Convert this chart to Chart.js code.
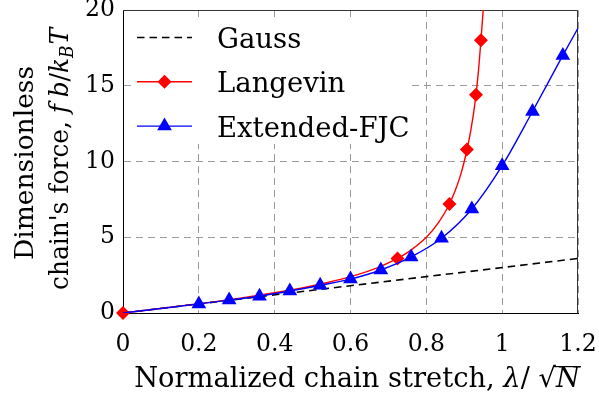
<!DOCTYPE html>
<html>
<head>
<meta charset="utf-8">
<script src="https://cdn.jsdelivr.net/npm/chart.js@4.4.0/dist/chart.umd.min.js"></script>
<style>
  html, body { margin: 0; padding: 0; background: #fff; }
  #wrap { width: 599px; height: 398px; }
</style>
</head>
<body>
<div id="wrap"><canvas id="forceChart" width="599" height="398"></canvas></div>
<script>
var xTicks = [0, 0.2, 0.4, 0.6, 0.8, 1, 1.2];
var yTicks = [0, 5, 10, 15, 20];

// Gaussian chain: straight line
var gaussStretch = [0, 1.2];
var gaussForce = [0, 3.6];

// Langevin chain: smooth curve plus marker points
var langevinStretch = [0, 0.164, 0.313, 0.438, 0.537, 0.614, 0.672, 0.724, 0.751, 0.8, 0.833, 0.857, 0.875, 0.889, 0.9, 0.917, 0.929, 0.9375, 0.944, 0.95, 0.955];
var langevinForce = [0, 0.5, 1, 1.5, 2, 2.5, 3, 3.6, 4, 5, 6, 7, 8, 9, 10, 12, 14, 16, 18, 20, 22];
var langevinMarkStretch = [0, 0.724, 0.861, 0.907, 0.931, 0.944];
var langevinMarkForce = [0, 3.6, 7.2, 10.8, 14.4, 18];

// extensible freely jointed chain
var fjcStretch = [0, 0.1, 0.2, 0.28, 0.36, 0.44, 0.52, 0.6, 0.68, 0.76, 0.84, 0.92, 1, 1.08, 1.16, 1.2];
var fjcForce = [0, 0.3, 0.6, 0.85, 1.11, 1.45, 1.83, 2.24, 2.84, 3.7, 4.93, 6.86, 9.72, 13.3, 17.0, 18.8];
var fjcMarkStretch = [0.2, 0.28, 0.36, 0.44, 0.52, 0.6, 0.68, 0.76, 0.84, 0.92, 1, 1.08, 1.16];
var fjcMarkForce = [0.6, 0.85, 1.11, 1.45, 1.83, 2.24, 2.84, 3.7, 4.93, 6.86, 9.72, 13.3, 17.0];

var SERIF = '"DejaVu Serif", serif';
var RED = '#ff0000';
var BLUE = '#0000ff';

function pairs(xs, ys) {
  return xs.map(function (x, i) { return { x: x, y: ys[i] }; });
}

function markerPath(ctx, style, x, y, r) {
  ctx.beginPath();
  if (style === 'rectRot') {
    ctx.moveTo(x - r, y);
    ctx.lineTo(x, y - r);
    ctx.lineTo(x + r, y);
    ctx.lineTo(x, y + r);
  } else {
    for (var k = 0; k < 3; k++) {
      var a = k * 2 * Math.PI / 3;
      ctx.lineTo(x + Math.sin(a) * r, y - Math.cos(a) * r);
    }
  }
  ctx.closePath();
}

// draws a row of text pieces (mixed upright / italic) centred on cx,
// squeezed along the baseline when it would run longer than maxW
function drawRuns(ctx, runs, cx, baseY, maxW) {
  var total = 0;
  runs.forEach(function (r) {
    ctx.font = r.font;
    r.w = ctx.measureText(r.text).width;
    total += r.w + (r.gap || 0);
  });
  var k = maxW && total > maxW ? maxW / total : 1;
  ctx.save();
  ctx.translate(cx, baseY);
  ctx.scale(k, 1);
  var x = -total / 2;
  runs.forEach(function (r) {
    ctx.font = r.font;
    ctx.fillText(r.text, x, r.dy || 0);
    if (r.overline) {
      ctx.fillRect(x - 2, -r.overline, r.w + 3, 1.2);
    }
    x += r.w + (r.gap || 0);
  });
  ctx.restore();
}

var frameLines = {
  id: 'frameLines',
  beforeDatasetsDraw: function (chart) {
    var ctx = chart.ctx, a = chart.chartArea;
    ctx.save();
    ctx.strokeStyle = '#333';
    ctx.lineWidth = 1;
    ctx.beginPath();
    ctx.moveTo(a.left, a.top + 0.5);
    ctx.lineTo(a.right - 0.5, a.top + 0.5);
    ctx.lineTo(a.right - 0.5, a.bottom);
    ctx.stroke();
    ctx.restore();
  }
};

var legendBox = {
  id: 'legendBox',
  afterDatasetsDraw: function (chart) {
    var ctx = chart.ctx, a = chart.chartArea;
    var sets = chart.data.datasets;
    var rows = [];
    sets.forEach(function (ds) {
      if (!ds.showLine) return;
      var mark = sets.filter(function (m) { return !m.showLine && m.label === ds.label; })[0];
      rows.push({ line: ds, mark: mark });
    });
    ctx.save();
    ctx.fillStyle = '#fff';
    ctx.fillRect(a.left + 8, a.top + 8, 280, 126);
    rows.forEach(function (row, i) {
      var y = a.top + 27.5 + i * 44.3;
      ctx.strokeStyle = row.line.borderColor;
      ctx.lineWidth = row.line.borderWidth;
      ctx.setLineDash(row.line.borderDash || []);
      ctx.beginPath();
      ctx.moveTo(a.left + 14, y);
      ctx.lineTo(a.left + 69, y);
      ctx.stroke();
      ctx.setLineDash([]);
      if (row.mark) {
        ctx.fillStyle = row.mark.backgroundColor;
        markerPath(ctx, row.mark.pointStyle, a.left + 41.5, y, row.mark.pointRadius);
        ctx.fill();
      }
      ctx.fillStyle = '#000';
      ctx.font = '27.5px ' + SERIF;
      ctx.textBaseline = 'alphabetic';
      ctx.fillText(row.line.label, a.left + 94, y + 10.5);
    });
    ctx.restore();
  }
};

var axisTitles = {
  id: 'axisTitles',
  afterDraw: function (chart) {
    var ctx = chart.ctx;
    var up = '26.5px ' + SERIF;
    var it = 'italic 26.5px ' + SERIF;
    var sub = 'italic 18px ' + SERIF;
    var upX = '27.3px ' + SERIF;
    var itX = 'italic 27.3px ' + SERIF;
    ctx.save();
    ctx.fillStyle = '#000';
    ctx.textBaseline = 'alphabetic';

    drawRuns(ctx, [
      { text: 'Normalized chain stretch, ', font: upX },
      { text: '\u03bb', font: itX },
      { text: '/ ', font: upX },
      { text: '\u221a', font: upX },
      { text: 'N', font: itX, overline: 21 }
    ], 357, 387, 452);

    ctx.save();
    ctx.translate(33, 163);
    ctx.rotate(-Math.PI / 2);
    drawRuns(ctx, [{ text: 'Dimensionless', font: up }], 0, 0, 198);
    ctx.restore();

    ctx.save();
    ctx.translate(68, 159);
    ctx.rotate(-Math.PI / 2);
    drawRuns(ctx, [
      { text: 'chain\'s force, ', font: up },
      { text: 'f', font: it, gap: 7 },
      { text: 'b', font: it },
      { text: '/', font: up },
      { text: 'k', font: it },
      { text: 'B', font: sub, dy: 5, gap: 1 },
      { text: 'T', font: it }
    ], 0, 0, 262);
    ctx.restore();
    ctx.restore();
  }
};

new Chart(document.getElementById('forceChart'), {
  type: 'scatter',
  data: {
    datasets: [{
      label: 'Gauss',
      data: pairs(gaussStretch, gaussForce),
      showLine: true,
      borderColor: '#000',
      borderWidth: 1.6,
      borderDash: [7.5, 5],
      pointRadius: 0,
      order: 5
    }, {
      label: 'Langevin',
      data: pairs(langevinStretch, langevinForce),
      showLine: true,
      borderColor: RED,
      borderWidth: 1.4,
      pointRadius: 0,
      cubicInterpolationMode: 'monotone',
      order: 4
    }, {
      label: 'Langevin',
      data: pairs(langevinMarkStretch, langevinMarkForce),
      showLine: false,
      clip: false,
      pointStyle: 'rectRot',
      pointRadius: 7,
      borderWidth: 0,
      backgroundColor: RED,
      borderColor: RED,
      order: 3
    }, {
      label: 'Extended-FJC',
      data: pairs(fjcStretch, fjcForce),
      showLine: true,
      borderColor: BLUE,
      borderWidth: 1.4,
      pointRadius: 0,
      cubicInterpolationMode: 'monotone',
      order: 2
    }, {
      label: 'Extended-FJC',
      data: pairs(fjcMarkStretch, fjcMarkForce),
      showLine: false,
      clip: false,
      pointStyle: 'triangle',
      pointRadius: 8.5,
      borderWidth: 0,
      backgroundColor: BLUE,
      borderColor: BLUE,
      order: 1
    }]
  },
  options: {
    responsive: false,
    animation: false,
    layout: { padding: { top: 10, right: 21, left: 0, bottom: 0 } },
    plugins: {
      legend: { display: false },
      tooltip: { enabled: false }
    },
    scales: {
      x: {
        type: 'linear',
        min: 0,
        max: 1.2,
        afterBuildTicks: function (axis) {
          axis.ticks = xTicks.map(function (v) { return { value: v }; });
        },
        afterFit: function (axis) {
          axis.height = 85;
          axis.paddingLeft = 0;
          axis.paddingRight = 0;
        },
        grid: { color: '#9a9a9a', lineWidth: 1, drawTicks: false },
        border: { color: '#000', width: 1, dash: [7, 5] },
        ticks: {
          color: '#000',
          padding: 18,
          maxRotation: 0,
          font: { family: SERIF, size: 23.5 },
          callback: function (v) { return String(v); }
        }
      },
      y: {
        type: 'linear',
        min: 0,
        max: 20,
        afterBuildTicks: function (axis) {
          axis.ticks = yTicks.map(function (v) { return { value: v }; });
        },
        afterFit: function (axis) {
          axis.width = 123;
          axis.paddingTop = 0;
          axis.paddingBottom = 0;
        },
        grid: { color: '#9a9a9a', lineWidth: 1, drawTicks: false },
        border: { color: '#000', width: 1, dash: [7, 5] },
        ticks: {
          color: '#000',
          padding: 8,
          font: { family: SERIF, size: 23.5 },
          callback: function (v) { return String(v); }
        }
      }
    }
  },
  plugins: [frameLines, legendBox, axisTitles]
});
</script>
</body>
</html>
